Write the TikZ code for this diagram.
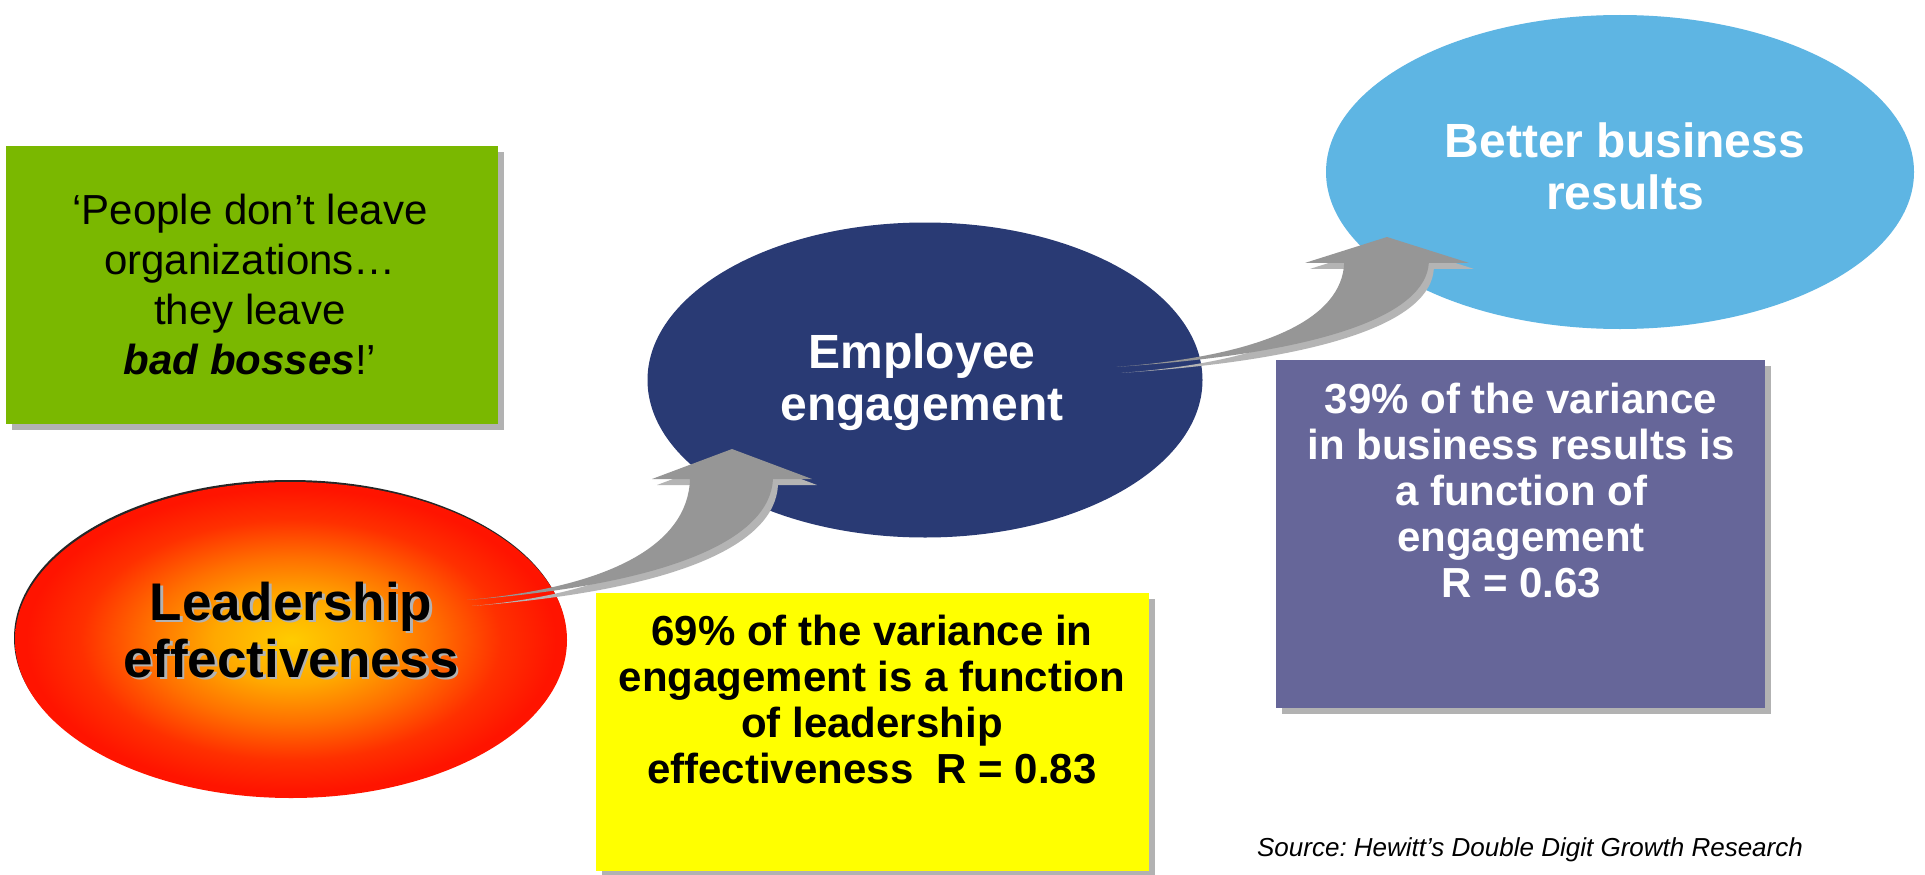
\documentclass[tikz,border=0pt]{standalone}
\usepackage{fontspec}
\setmainfont{Liberation Sans}
\usetikzlibrary{shapes.geometric,calc,shadows}
\frenchspacing

\definecolor{quotegreen}{HTML}{7AB800}
\definecolor{noteyellow}{HTML}{FFFF00}
\definecolor{notepurple}{HTML}{666699}
\definecolor{engnavy}{HTML}{293A74}
\definecolor{resultblue}{HTML}{5EB5E3}
\definecolor{boxshadow}{HTML}{B2B2B2}
\definecolor{arrowgray}{HTML}{969696}
\definecolor{arrowshade}{HTML}{B4B4B4}
\definecolor{glowA}{HTML}{FFCC00}
\definecolor{glowB}{HTML}{FFA800}
\definecolor{glowC}{HTML}{FF7000}
\definecolor{glowD}{HTML}{FF3000}
\definecolor{glowE}{HTML}{FF1400}

% warm glow for the leadership oval: yellow core fading to red rim
\pgfdeclareradialshading{leaderglow}{\pgfpoint{0bp}{0bp}}{%
  color(0bp)=(glowA); color(7bp)=(glowB); color(13bp)=(glowC);
  color(19bp)=(glowD); color(24bp)=(glowE); color(50bp)=(glowE)}

% outline of the curved block arrow, tip at the origin (y grows downwards)
\newcommand\bentarrowoutline{(0,0) -- (80,30) -- (41,30)
  .. controls (38,90) and (-60,135) .. (-265,151)
  .. controls (-120,138) and (-44,95) .. (-42,30) -- (-80,30) -- cycle}

\begin{document}
\begin{tikzpicture}[x=1pt,y=-1pt,
  every node/.style={inner sep=0pt, outer sep=0pt},
  note/.style={rectangle, drop shadow={shadow xshift=6pt, shadow yshift=-6pt,
      fill=boxshadow, opacity=1}},
  bubble/.style={ellipse},
  caption/.style={align=center, anchor=north},
  bigbold/.style={font=\fontsize{48}{52}\selectfont\bfseries},
  notebold/.style={font=\fontsize{42}{46}\selectfont\bfseries},
  arrowbody/.style={fill=arrowgray},
  arrowback/.style={fill=arrowshade}]

\fill[white] (0,0) rectangle (1925,875);
\useasboundingbox (0,0) rectangle (1925,875);

% quotation box
\node[note, fill=quotegreen, minimum width=492pt, minimum height=278pt] (quote) at (252,285) {};
\node[caption, font=\fontsize{42}{50}\selectfont] (quotetext) at (250,194)
  {‘People don’t leave\\organizations…\\they leave\\ \textbf{\textit{bad bosses}}!’};

% the three ovals
\node[bubble, minimum width=552pt, minimum height=316pt, shade, shading=leaderglow,
  drop shadow={shadow xshift=-1pt, shadow yshift=2pt, fill=black, opacity=0.85}] (lead) at (291,640) {};
\node[bubble, fill=engnavy, minimum width=555pt, minimum height=315pt] (emp) at (925,380) {};
\node[bubble, fill=resultblue, minimum width=588pt, minimum height=314pt] (res) at (1620,172) {};

% curved arrows: leadership -> engagement -> results
\coordinate (a1tip) at ($(emp.center)+(-193,69)$);
\coordinate (a2tip) at ($(res.center)+(-233,65)$);
\begin{scope}[shift={(a1tip)}]
  \fill[arrowback, shift={(5,6)}] \bentarrowoutline;
  \fill[arrowbody] \bentarrowoutline;
\end{scope}
\begin{scope}[shift={(a2tip)}]
  \fill[arrowback, shift={(5,6)}, xscale=1.02, yscale=0.86] \bentarrowoutline;
  \fill[arrowbody, xscale=1.02, yscale=0.86] \bentarrowoutline;
\end{scope}

% oval captions
\node[caption, font=\fontsize{53}{57}\selectfont\bfseries, text=gray!60] (leadshade) at (293.5,584.5)
  {Leadership\\effectiveness};
\node[caption, font=\fontsize{53}{57}\selectfont\bfseries] (leadtext) at (291,582)
  {Leadership\\effectiveness};
\node[caption, bigbold, text=white] (emptext) at (922,334) {Employee\\engagement};
\node[caption, bigbold, text=white] (restext) at (1625,123) {Better business\\results};

% variance notes
\node[note, fill=noteyellow, minimum width=553pt, minimum height=278pt] (varlead) at (872.5,732) {};
\node[caption, notebold] (varleadtext) at (872,615)
  {69\% of the variance in\\engagement is a function\\of leadership\\effectiveness~\ R = 0.83};
\node[note, fill=notepurple, minimum width=489pt, minimum height=348pt] (varbiz) at (1520.5,534) {};
\node[caption, notebold, text=white] (varbiztext) at (1521,383)
  {39\% of the variance\\in business results is\\a function of\\engagement\\R = 0.63};

% source line
\node[anchor=base, font=\fontsize{26}{30}\selectfont\itshape] (source) at (1530,856)
  {Source: Hewitt’s Double Digit Growth Research};
\end{tikzpicture}
\end{document}
